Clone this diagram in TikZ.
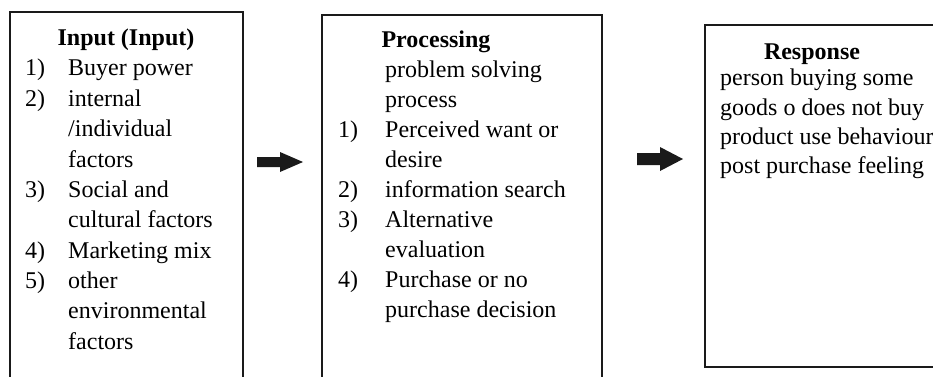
\documentclass[tikz,border=0pt]{standalone}
\usepackage{fontspec}
\setmainfont{Liberation Serif}
\definecolor{ink}{HTML}{1A1A1A}
\begin{document}
\begin{tikzpicture}[x=1pt,y=-1pt,
  txt/.style={anchor=base west,inner sep=0pt,font=\fontsize{24}{29}\selectfont},
  ttl/.style={anchor=base,inner sep=0pt,font=\fontsize{24}{29}\selectfont\bfseries},
  frame/.style={draw=ink,line width=1.6pt},
  blockarrow/.style={fill=ink,draw=none}]
\useasboundingbox (0,0) rectangle (933,376);
\clip (0,0) rectangle (933,376);

% three frames
\draw[frame] (10,400) -- (10,12) -- (243,12) -- (243,400);
\draw[frame] (322,400) -- (322,15) -- (602,15) -- (602,400);
\draw[frame] (960,25) -- (705,25) -- (705,367) -- (960,367);

% Input column
\node[ttl] (inT) at (126,45) {Input (Input)};
\node[txt] (in1n) at (25,75.5) {1)};
\node[txt] (in1)  at (68,75.5) {Buyer power};
\node[txt] (in2n) at (25,106) {2)};
\node[txt] (in2)  at (68,106) {internal};
\node[txt] (in2b) at (68,136.5) {/individual};
\node[txt] (in2c) at (68,167) {factors};
\node[txt] (in3n) at (25,197) {3)};
\node[txt] (in3)  at (68,197) {Social and};
\node[txt] (in3b) at (68,227.5) {cultural factors};
\node[txt] (in4n) at (25,258) {4)};
\node[txt] (in4)  at (68,258) {Marketing mix};
\node[txt] (in5n) at (25,288) {5)};
\node[txt] (in5)  at (68,288) {other};
\node[txt] (in5b) at (68,318.5) {environmental};
\node[txt] (in5c) at (68,349) {factors};

% Processing column
\node[ttl] (prT) at (436,47) {Processing};
\node[txt] (pr0)  at (385,77) {problem solving};
\node[txt] (pr0b) at (385,107) {process};
\node[txt] (pr1n) at (338,137) {1)};
\node[txt] (pr1)  at (385,137) {Perceived want or};
\node[txt] (pr1b) at (385,167) {desire};
\node[txt] (pr2n) at (338,197) {2)};
\node[txt] (pr2)  at (385,197) {information search};
\node[txt] (pr3n) at (338,227) {3)};
\node[txt] (pr3)  at (385,227) {Alternative};
\node[txt] (pr3b) at (385,257) {evaluation};
\node[txt] (pr4n) at (338,287) {4)};
\node[txt] (pr4)  at (385,287) {Purchase or no};
\node[txt] (pr4b) at (385,317) {purchase decision};

% Response column
\node[ttl] (reT) at (812,59) {Response};
\node[txt] (re1) at (720,85) {person buying some};
\node[txt] (re2) at (720,115) {goods o does not buy};
\node[txt] (re3) at (720,144) {product use behaviour};
\node[txt] (re4) at (720,173) {post purchase feeling};

% block arrows between the columns
\coordinate (a1) at (257,162);
\fill[blockarrow] (a1) ++(0,-5) -- ++(23,0) -- ++(0,-5) -- ++(23,10) -- ++(-23,10) -- ++(0,-5) -- ++(-23,0) -- cycle;
\coordinate (a2) at (637,159);
\fill[blockarrow] (a2) ++(0,-6) -- ++(23,0) -- ++(0,-6) -- ++(23,12) -- ++(-23,12) -- ++(0,-6) -- ++(-23,0) -- cycle;
\end{tikzpicture}
\end{document}
